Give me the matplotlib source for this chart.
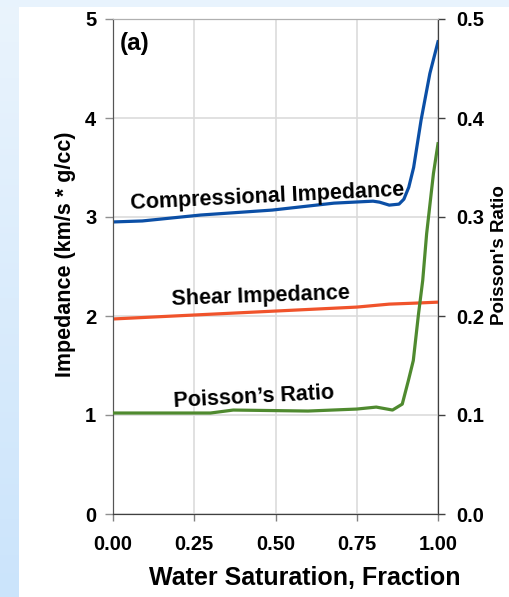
import numpy as np
import matplotlib
matplotlib.use("Agg")
import matplotlib.pyplot as plt
from matplotlib.colors import LinearSegmentedColormap

plt.rcParams['font.family'] = ['Liberation Sans', 'DejaVu Sans']
plt.rcParams['font.weight'] = 'bold'

# --- data ---
sw_p = [0, 0.09, 0.27, 0.49, 0.68, 0.80, 0.82, 0.85, 0.88, 0.895, 0.91, 0.925, 0.948, 0.975, 1.0]
comp_imp = [2.95, 2.96, 3.02, 3.07, 3.14, 3.16, 3.15, 3.12, 3.13, 3.18, 3.30, 3.50, 3.98, 4.45, 4.77]

sw_s = [0, 0.25, 0.5, 0.75, 0.85, 0.93, 1.0]
shear_imp = [1.97, 2.01, 2.05, 2.09, 2.12, 2.13, 2.14]

sw_pr = [0, 0.3, 0.37, 0.6, 0.75, 0.81, 0.86, 0.89, 0.909, 0.924, 0.94, 0.953, 0.965, 0.986, 1.0]
poisson = [0.102, 0.102, 0.105, 0.104, 0.106, 0.108, 0.105, 0.111, 0.135, 0.155, 0.202, 0.236, 0.283, 0.344, 0.374]

x_ticks = [0, 0.25, 0.5, 0.75, 1.0]
left_ticks = [0, 1, 2, 3, 4, 5]
right_ticks = [0, 0.1, 0.2, 0.3, 0.4, 0.5]

fig = plt.figure(figsize=(5.09, 5.97), dpi=100)
fig.patch.set_facecolor('white')

# slide background: blue strip on the left, pale strip on top
bg = fig.add_axes([0, 0, 19 / 509, 1], zorder=-5)
cmap = LinearSegmentedColormap.from_list('bgblue', ['#eaf4fd', '#cbe4fb'])
bg.imshow(np.linspace(0, 1, 100).reshape(-1, 1), aspect='auto', cmap=cmap, extent=[0, 1, 0, 1])
bg.axis('off')
top = fig.add_axes([0, 1 - 7 / 597, 1, 7 / 597], zorder=-5)
top.set_facecolor('#e8f3fd')
top.set_xticks([])
top.set_yticks([])
for s in top.spines.values():
    s.set_visible(False)

ax = fig.add_axes([113 / 509, 1 - 514 / 597, 325 / 509, 495 / 597])
ax2 = ax.twinx()

ax.plot(sw_p, comp_imp, color='#0b4fa6', lw=2.3, zorder=3)
ax.plot(sw_s, shear_imp, color='#f0532b', lw=2.3, zorder=3)
ax2.plot(sw_pr, poisson, color='#4f8a2f', lw=2.3, zorder=3)

ax.set_xlim(0, 1)
ax.set_ylim(0, 5)
ax2.set_ylim(0, 0.5)
ax.set_xticks(x_ticks)
ax.set_xticklabels([f"{v:.2f}" for v in x_ticks])
ax.set_yticks(left_ticks)
ax2.set_yticks(right_ticks)
ax2.set_yticklabels([f"{v:.1f}" for v in right_ticks])

ax.grid(True, color='#dcdcdc', lw=1.2)
ax.set_axisbelow(True)

for a in (ax, ax2):
    a.spines['top'].set_color('#b0b0b0')
    a.spines['left'].set_color('#555555')
    a.spines['right'].set_color('#404040')
    a.spines['bottom'].set_color('#404040')

ax.tick_params(axis='x', length=5, width=1, color='#808080', pad=10, labelsize=14.5)
ax.tick_params(axis='y', length=6, width=1, color='#909090', pad=6, labelsize=14.5)
ax2.tick_params(axis='y', length=5, width=1, color='#404040', pad=8, labelsize=14.5)

ax.set_xlabel('Water Saturation, Fraction', fontsize=18, fontweight='bold')
ax.xaxis.set_label_coords(0.59, -0.106)
ax.set_ylabel('Impedance (km/s * g/cc)', fontsize=15.5, fontweight='bold', va='center')
ax.yaxis.set_label_coords(-0.145, 0.525)
ax2.set_ylabel("Poisson's Ratio", fontsize=13.5, fontweight='bold', va='center', rotation=90)
ax2.yaxis.set_label_coords(1.1877, 0.523)

# curve labels
ax.text(0.474, 3.2, 'Compressional Impedance', fontsize=15.5, fontweight='bold',
        ha='center', va='center', rotation=2.8)
ax.text(0.455, 2.2, 'Shear Impedance', fontsize=15.5, fontweight='bold',
        ha='center', va='center', rotation=2.0)
ax.text(0.435, 1.18, 'Poisson\u2019s Ratio', fontsize=15.5, fontweight='bold',
        ha='center', va='center', rotation=3.0)
ax.text(0.068, 4.75, '(a)', fontsize=17.5, fontweight='bold', ha='center', va='center')

fig.savefig('out.png', dpi=100)
